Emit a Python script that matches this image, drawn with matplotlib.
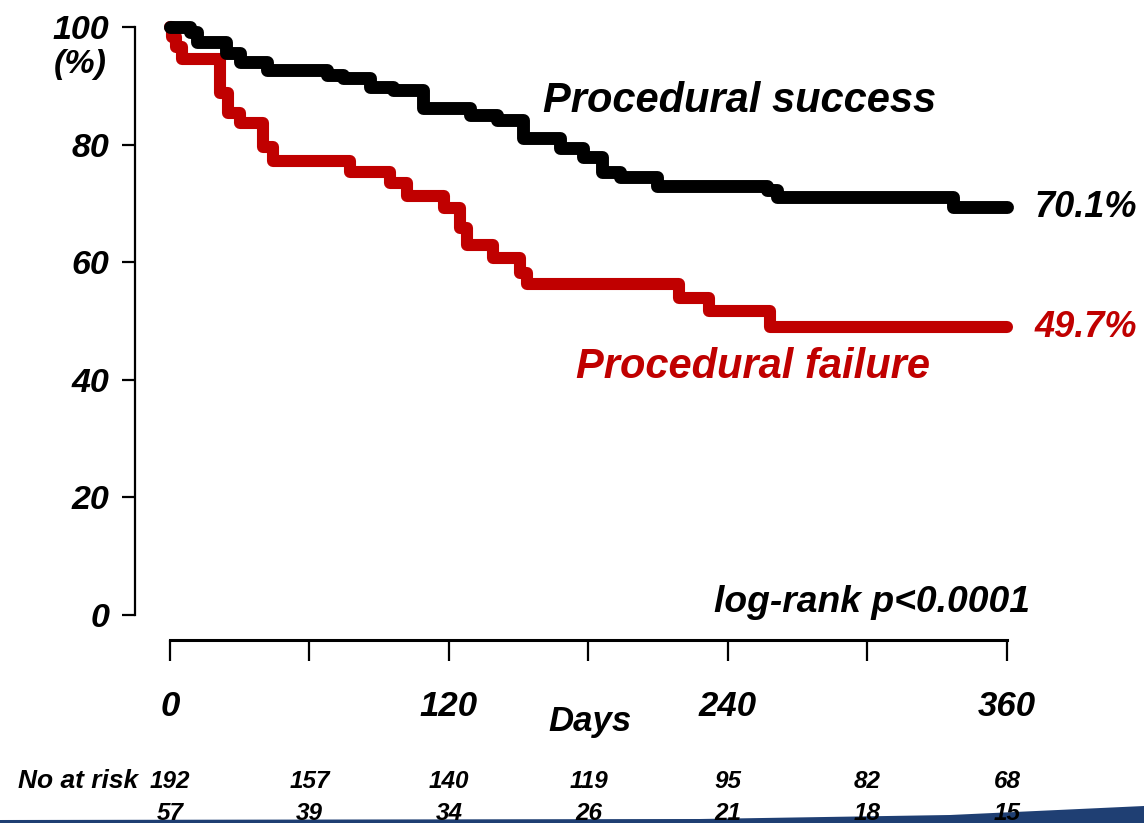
import numpy as np
import matplotlib.pyplot as plt
import matplotlib.transforms as mtransforms
from matplotlib.patches import Polygon

plt.rcParams['font.family'] = ['Liberation Sans', 'DejaVu Sans']
plt.rcParams['font.weight'] = 'bold'
plt.rcParams['font.style'] = 'italic'

# survival curves (days, %)
success_days = [0, 8.6, 11.6, 24, 30, 41.7, 67.5, 74.4, 86, 96, 109, 129, 140.6,
                151.8, 167.7, 177.6, 186, 193.5, 209.5, 256.8, 261, 336.8, 360]
success_pct = [100, 99.2, 97.5, 95.5, 94, 92.7, 91.8, 91.3, 89.8, 89.3, 86.2, 85, 84.2,
               81.1, 79.4, 77.9, 75.3, 74.5, 73, 72.3, 71.1, 69.4, 69.4]

failure_days = [0, 1, 2.5, 5, 21.5, 25, 30, 40, 44.3, 77.4, 94.6, 102, 118, 124.7,
                127.7, 139, 150.5, 153.5, 219, 232, 258, 360]
failure_pct = [100, 98.3, 96.6, 94.5, 88.8, 85.4, 83.7, 79.6, 77.2, 75.3, 73.5, 71.3,
               69.2, 65.8, 62.9, 60.7, 58.2, 56.3, 53.9, 51.7, 49.0, 49.0]

risk_days = [0, 60, 120, 180, 240, 300, 360]
risk_success = [192, 157, 140, 119, 95, 82, 68]
risk_failure = [57, 39, 34, 26, 21, 18, 15]

RED = '#C00000'
W, H = 1144, 823

fig = plt.figure(figsize=(W / 100, H / 100), dpi=100)
ax = fig.add_axes([135 / W, 1 - 615 / H, (1007 - 135) / W, (615 - 27) / H])
ax.set_xlim(-15.05, 360)
ax.set_ylim(0, 100)

ax.step(success_days, success_pct, where='post', color='black', lw=9.3,
        solid_capstyle='round', solid_joinstyle='round', clip_on=False, zorder=3)
ax.step(failure_days, failure_pct, where='post', color=RED, lw=8.7,
        solid_capstyle='round', solid_joinstyle='round', clip_on=False, zorder=2)

for s in ['top', 'right']:
    ax.spines[s].set_visible(False)
ax.spines['left'].set_bounds(0, 100)
ax.spines['left'].set_linewidth(1.6)
ax.spines['bottom'].set_position(('outward', 18))
ax.spines['bottom'].set_bounds(0, 360)
ax.spines['bottom'].set_linewidth(2.2)

ax.set_yticks([0, 20, 40, 60, 80, 100])
ax.tick_params(axis='y', direction='out', length=9.5, width=1.6, pad=9, labelsize=24.5)
ax.set_xticks(risk_days)
ax.set_xticklabels(['0', '', '120', '', '240', '', '360'])
ax.tick_params(axis='x', direction='out', length=15, width=1.6, pad=21, labelsize=25)

fig.text(80 / W, 1 - 65 / H, '(%)', fontsize=24.5, ha='center', va='center')
fig.text(590 / W, 1 - 722 / H, 'Days', fontsize=25, ha='center', va='center')

ax.text(245, 85.5, 'Procedural success', fontsize=30, ha='center', va='baseline')
ax.text(250.8, 40.3, 'Procedural failure', fontsize=30, ha='center', va='baseline',
        color=RED)
ax.text(372, 67.7, '70.1%', fontsize=26, ha='left', va='baseline', clip_on=False)
ax.text(372, 47.3, '49.7%', fontsize=26, ha='left', va='baseline', color=RED,
        clip_on=False)
ax.text(370, 0.5, 'log-rank p<0.0001', fontsize=26.8, ha='right', va='baseline',
        clip_on=False)

# numbers at risk under the axis
tr = mtransforms.blended_transform_factory(ax.transData, fig.transFigure)
fig.text(138 / W, 1 - 788 / H, 'No at risk', fontsize=19, ha='right', va='baseline')
for d, a, b in zip(risk_days, risk_success, risk_failure):
    ax.text(d, 1 - 788 / H, str(a), transform=tr, fontsize=17.5, ha='center',
            va='baseline', zorder=5)
    ax.text(d, 1 - 820 / H, str(b), transform=tr, fontsize=17.5, ha='center',
            va='baseline', zorder=5)

# slide footer swoosh
band = Polygon([[0, 0], [0, 3 / H], [700 / W, 4 / H], [950 / W, 8 / H],
                [1, 17 / H], [1, 0]],
               closed=True, transform=fig.transFigure, facecolor='#1f3f73',
               edgecolor='none', zorder=-1)
fig.patches.append(band)

fig.savefig('out.png', dpi=100)
